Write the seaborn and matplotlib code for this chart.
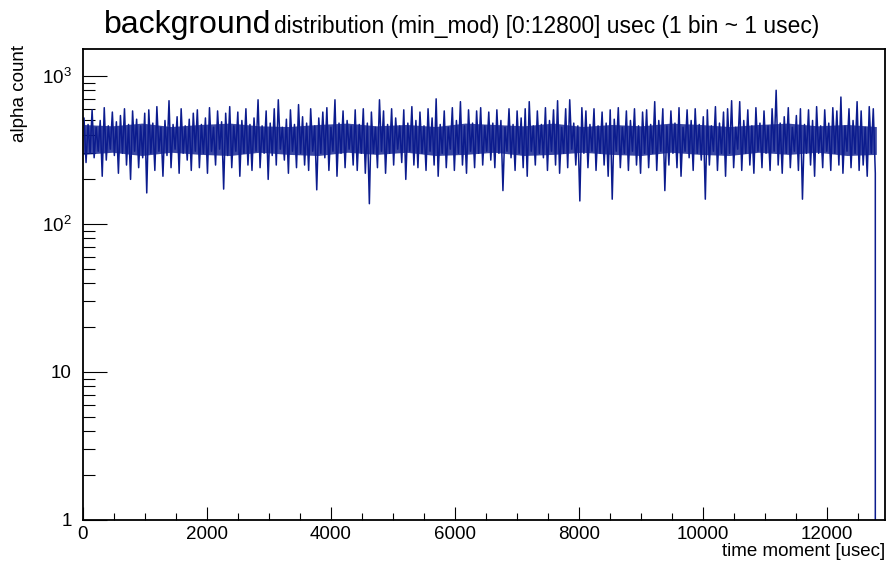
import numpy as np
import pandas as pd
import seaborn as sns
import matplotlib.pyplot as plt
from matplotlib.ticker import FixedLocator, NullFormatter

# noise band: upper / lower excursion per ~65 usec slice
seg_hi = [520, 470, 590, 450, 500, 610, 460, 570, 490, 540, 600, 470, 580, 510,
          460, 560, 590, 480, 620, 450, 500, 680, 470, 530, 600, 460, 510, 560,
          590, 470, 520, 610, 450, 580, 490, 560, 620, 460, 570, 500, 600, 470,
          520, 690, 460, 580, 480, 600, 690, 450, 510, 590, 470, 640, 530, 480,
          600, 460, 520, 570, 610, 450, 690, 480, 580, 500, 460, 590, 470, 600,
          480, 570, 450, 690, 580, 470, 600, 520, 460, 590, 480, 620, 500, 570,
          460, 600, 520, 700, 470, 580, 450, 610, 500, 670, 460, 590, 480, 580,
          610, 460, 570, 480, 590, 500, 450, 600, 470, 580, 520, 600, 670, 460,
          580, 470, 610, 500, 590, 680, 450, 600, 690, 480, 460, 610, 580, 470,
          600, 460, 570, 480, 590, 510, 610, 450, 580, 500, 600, 460, 570, 590,
          470, 670, 500, 600, 460, 580, 480, 610, 450, 590, 500, 600, 470, 530,
          590, 460, 620, 480, 570, 600, 680, 450, 670, 500, 590, 460, 610, 480,
          580, 460, 600, 800, 480, 530, 610, 450, 540, 600, 470, 590, 500, 620,
          460, 590, 480, 610, 580, 720, 460, 600, 500, 670, 580, 450, 620, 600]
seg_lo = [260, 300, 280, 310, 210, 270, 320, 290, 220, 300, 250, 200, 310, 240,
          280, 162, 300, 230, 310, 210, 290, 240, 320, 220, 300, 270, 230, 310,
          240, 300, 220, 310, 250, 320, 172, 290, 240, 310, 210, 300, 250, 230,
          310, 240, 300, 200, 290, 250, 320, 270, 220, 310, 240, 300, 250, 230,
          310, 170, 300, 280, 230, 310, 210, 300, 240, 320, 250, 230, 300, 220,
          137, 300, 240, 310, 220, 300, 250, 320, 260, 200, 310, 250, 240, 300,
          230, 310, 250, 210, 300, 240, 320, 230, 300, 250, 220, 310, 240, 300,
          250, 310, 270, 240, 300, 168, 310, 280, 230, 300, 240, 210, 310, 250,
          300, 280, 230, 310, 250, 220, 300, 240, 320, 250, 143, 300, 240, 310,
          230, 300, 250, 210, 147, 310, 240, 300, 230, 310, 250, 220, 300, 240,
          300, 230, 310, 168, 250, 300, 240, 210, 310, 280, 230, 300, 270, 147,
          250, 310, 230, 300, 210, 300, 240, 320, 230, 300, 250, 220, 310, 240,
          300, 230, 310, 250, 220, 300, 240, 310, 230, 147, 300, 250, 210, 300,
          240, 310, 230, 300, 250, 220, 310, 240, 300, 230, 250, 210, 300, 220]
# densest part of the band, per ~457 usec slice
core_top = [470, 460, 480, 455, 470, 480, 460, 455, 470, 480, 460, 470, 455, 480,
            470, 460, 480, 455, 470, 460, 480, 470, 455, 470, 480, 460, 470, 455]
core_bot = [295, 305, 290, 305, 295, 290, 305, 295, 290, 305, 295, 305, 290, 295,
            305, 290, 295, 305, 295, 290, 305, 295, 290, 305, 295, 305, 290, 295]
t_end = 12800      # last filled bin
end_count = 0      # empty bins after it
x_max = 12940

y_ticks = [1, 10, 100, 1000]
y_tick_labels = ['1', '10', '$10^{2}$', '$10^{3}$']
x_ticks = [0, 2000, 4000, 6000, 8000, 10000, 12000]

sns.set_style('white')
plt.rcParams['font.family'] = ['Liberation Sans', 'DejaVu Sans']
plt.rcParams['mathtext.fontset'] = 'custom'
plt.rcParams['mathtext.rm'] = 'Liberation Sans'
plt.rcParams['mathtext.it'] = 'Liberation Sans'
plt.rcParams['text.color'] = 'black'
plt.rcParams['xtick.color'] = 'black'
plt.rcParams['ytick.color'] = 'black'

seg_w = t_end / len(seg_hi)
idx = np.arange(len(seg_hi))
t = np.column_stack([idx * seg_w + 0.25 * seg_w, idx * seg_w + 0.75 * seg_w]).ravel()
counts = np.column_stack([seg_hi, seg_lo]).ravel()
df = pd.DataFrame({'t': np.append(t, t_end), 'count': np.append(counts, end_count)})

core_t = np.linspace(0, t_end, len(core_top))

fig = plt.figure(figsize=(8.9, 5.63), dpi=100)
ax = fig.add_axes([83/890, 43/563, (885-83)/890, (520-49)/563])
ax.fill_between(core_t, core_bot, core_top, color='#0a1a8c', alpha=0.8, linewidth=0)
sns.lineplot(data=df, x='t', y='count', ax=ax, color='#0c1c8e', linewidth=1.1,
             estimator=None, sort=False)
ax.set_yscale('log')
ax.set_xlim(0, x_max)
ax.set_ylim(1, 1520)

ax.set_xticks(x_ticks)
ax.set_xticklabels([str(v) for v in x_ticks])
ax.xaxis.set_minor_locator(FixedLocator(np.arange(500, x_max, 500)))
ax.yaxis.set_major_locator(FixedLocator(y_ticks))
ax.set_yticklabels(y_tick_labels)
ax.yaxis.set_minor_locator(FixedLocator([m * 10**d for d in range(3) for m in range(2, 10)]))
ax.yaxis.set_minor_formatter(NullFormatter())

ax.tick_params(axis='x', which='major', direction='in', length=9.4, width=0.8, labelsize=13.5, pad=4)
ax.tick_params(axis='x', which='minor', direction='in', length=5, width=0.8)
ax.tick_params(axis='y', which='major', direction='in', length=17, width=0.8, labelsize=13.5, pad=8)
ax.tick_params(axis='y', which='minor', direction='in', length=8.6, width=0.8)
ax.xaxis.set_ticks_position('bottom')
ax.yaxis.set_ticks_position('left')
for s in ax.spines.values():
    s.set_visible(True)
    s.set_color('black')
    s.set_linewidth(1.3)
ax.set_xlabel('')
ax.set_ylabel('')

fig.text(104/890, 1 - 33/563, 'background', fontsize=23, ha='left', va='baseline')
fig.text(274/890, 1 - 33/563, 'distribution (min_mod) [0:12800] usec (1 bin ~ 1 usec)',
         fontsize=16.4, ha='left', va='baseline')
fig.text(20/890, 1 - 45/563, 'alpha count', fontsize=13.5, rotation=90, ha='center', va='top')
fig.text(885/890, 1 - 551/563, 'time moment [usec]', fontsize=13.5, ha='right', va='center')

fig.savefig('out.png', dpi=100)
